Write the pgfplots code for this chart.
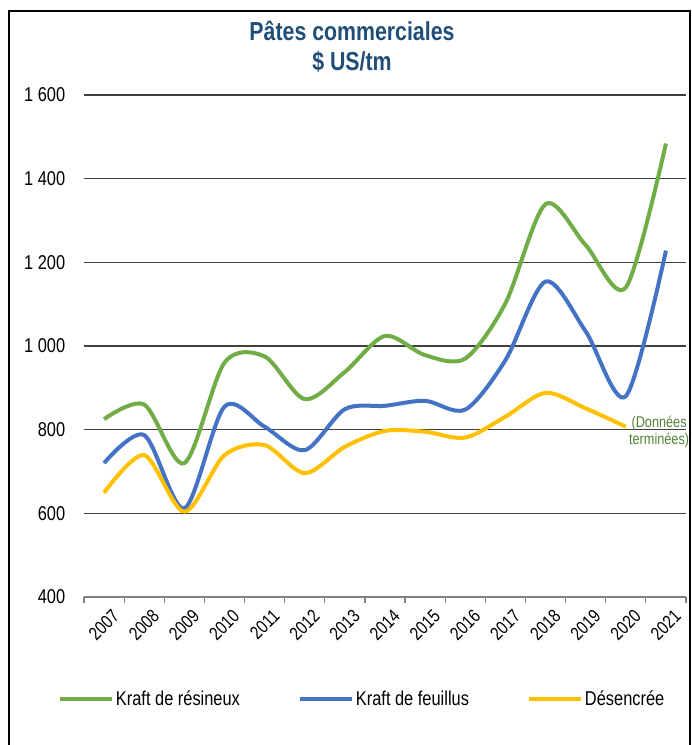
\documentclass[border=0pt]{standalone}
\usepackage{fontspec}
\setmainfont{Liberation Sans}[FakeStretch=0.82]
\usepackage{pgfplots}
\pgfplotsset{compat=1.18}
\definecolor{cgreen}{RGB}{112,173,71}
\definecolor{cblue}{RGB}{68,114,196}
\definecolor{cyellow}{RGB}{255,192,0}
\definecolor{ctitle}{RGB}{31,78,121}
\definecolor{cnote}{RGB}{84,130,53}
\begin{document}
\begin{tikzpicture}[x=1bp,y=1bp]
\useasboundingbox (0,0) rectangle (692,745);
\draw[line width=2bp] (9,-2) -- (9,734) -- (690,734) -- (690,-2);
\node[font=\fontsize{26bp}{30bp}\selectfont\bfseries, text=ctitle, align=center] at (352,698) {Pâtes commerciales\\\$ US/tm};
\begin{axis}[
  at={(84bp,148bp)}, anchor=south west, scale only axis,
  width=602bp, height=502bp,
  xmin=2006.5, xmax=2021.5, ymin=400, ymax=1600,
  axis lines*=left,
  y axis line style={draw=none},
  x axis line style={draw=black!50, line width=1.2bp},
  ytick={600,800,...,1600},
  yticklabels={600,800,1 000,1 200,1 400,1 600},
  extra y ticks={400}, extra y tick labels={400},
  extra y tick style={grid=none},
  ymajorgrids,
  major grid style={draw=black!75, line width=1.1bp},
  major y tick style={draw=none},
  major x tick style={draw=none},
  xtick={2007,2008,2009,2010,2011,2012,2013,2014,2015,2016,2017,2018,2019,2020,2021},
  xticklabels={2007,2008,2009,2010,2011,2012,2013,2014,2015,2016,2017,2018,2019,2020,2021},
  minor xtick={2006.5,2007.5,2008.5,2009.5,2010.5,2011.5,2012.5,2013.5,2014.5,2015.5,2016.5,2017.5,2018.5,2019.5,2020.5,2021.5},
  minor tick length=6bp, tick align=outside,
  minor x tick style={draw=black!50, line width=1.2bp},
  xticklabel style={rotate=45, anchor=north east, font=\fontsize{18.5bp}{22bp}\selectfont, inner sep=1bp, yshift=-9bp, xshift=1bp},
  yticklabel style={font=\fontsize{20bp}{24bp}\selectfont, xshift=-11bp},
  clip=false,
  legend style={at={(axis description cs:0.462,-0.203)}, anchor=center, draw=none, fill=none,
    legend columns=3, font=\fontsize{20bp}{24bp}\selectfont,
    /tikz/every even column/.append style={column sep=56bp}},
  legend image code/.code={\draw[#1] (0bp,0bp) -- (52bp,0bp);},
]
\addplot[cgreen, line width=4bp, smooth] coordinates {
(2007,825) (2008,860) (2009,720) (2010,960) (2011,975) (2012,873) (2013,938) (2014,1024)
(2015,978) (2016,970) (2017,1102) (2018,1339) (2019,1241) (2020,1140) (2021,1484)};
\addlegendentry{Kraft de résineux}
\addplot[cblue, line width=4bp, smooth] coordinates {
(2007,720) (2008,787) (2009,612) (2010,855) (2011,807) (2012,751) (2013,849) (2014,857)
(2015,869) (2016,848) (2017,966) (2018,1154) (2019,1035) (2020,880) (2021,1228)};
\addlegendentry{Kraft de feuillus}
\addplot[cyellow, line width=4bp, smooth] coordinates {
(2007,649) (2008,739) (2009,604) (2010,739) (2011,763) (2012,696) (2013,759) (2014,797)
(2015,795) (2016,781) (2017,831) (2018,888) (2019,851) (2020,807)};
\addlegendentry{Désencrée}
\node[font=\fontsize{15.5bp}{17bp}\selectfont, text=cnote, align=center] at (axis cs:2020.83,794) {(Données\\terminées)};
\end{axis}
\end{tikzpicture}
\end{document}
